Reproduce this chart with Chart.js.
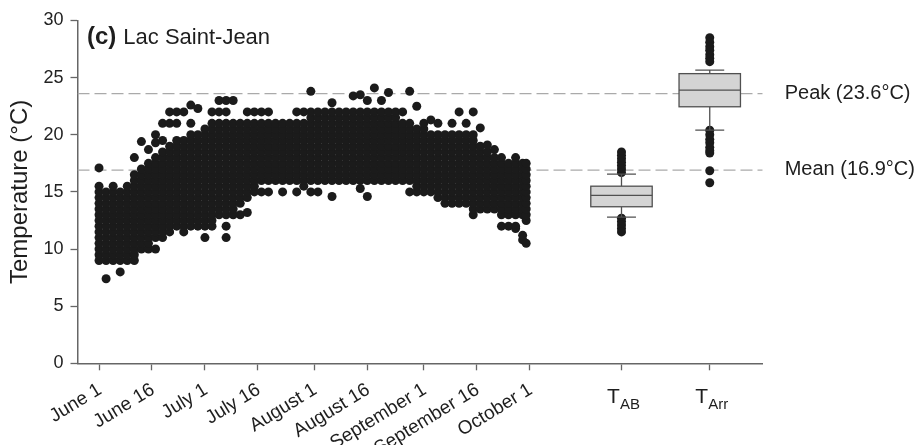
<!DOCTYPE html>
<html>
<head>
<meta charset="utf-8">
<script src="https://cdn.jsdelivr.net/npm/chart.js@4.4.1/dist/chart.umd.min.js"></script>
<style>
  html, body { margin: 0; padding: 0; background: #fff; }
</style>
</head>
<body>
<canvas id="chart" width="923" height="445"></canvas>
<script>
// x axis is counted in days after June 1
const dateTicks = [0, 15, 30, 45, 61, 76, 92, 107, 122];
const dateLabels = ['June 1', 'June 16', 'July 1', 'July 16', 'August 1', 'August 16', 'September 1', 'September 16', 'October 1'];
const boxTicks = [148, 173];
const boxNames = ['AB', 'Arr'];

const peakTemp = 23.6;
const meanTemp = 16.9;

// [day after June 1, temperatures read in that two-day slot (°C)]
const juneReadings = [
  [0, [9, 9.5, 10, 10.5, 11, 11.5, 12, 12.5, 13, 13.5, 14, 14.5, 15, 15.5, 17.1]],
  [2, [7.4, 9, 9.5, 10, 10.5, 11, 11.5, 12, 12.5, 13, 13.5, 14, 14.5, 15]],
  [4, [9, 9.5, 10, 10.5, 11, 11.5, 12, 12.5, 13, 13.5, 14, 14.5, 15, 15.5]],
  [6, [8, 9, 9.5, 10, 10.5, 11, 11.5, 12, 12.5, 13, 13.5, 14, 14.5, 15]],
  [8, [9, 9.5, 10, 10.5, 11, 11.5, 12, 12.5, 13, 13.5, 14, 14.5, 15, 15.5]],
  [10, [9, 9.5, 10, 10.5, 11, 11.5, 12, 12.5, 13, 13.5, 14, 14.5, 15, 15.5, 16, 16.5, 18]],
  [12, [10, 10.5, 11, 11.5, 12, 12.5, 13, 13.5, 14, 14.5, 15, 15.5, 16, 16.5, 17, 19.4]],
  [14, [10, 10.5, 11, 11.5, 12, 12.5, 13, 13.5, 14, 14.5, 15, 15.5, 16, 16.5, 17, 17.5, 18.7]],
  [16, [10, 11, 11.5, 12, 12.5, 13, 13.5, 14, 14.5, 15, 15.5, 16, 16.5, 17, 17.5, 18, 19.3, 20]],
  [18, [11, 11.5, 12, 12.5, 13, 13.5, 14, 14.5, 15, 15.5, 16, 16.5, 17, 17.5, 18, 18.5, 19.5, 21]],
  [20, [11.5, 12, 12.5, 13, 13.5, 14, 14.5, 15, 15.5, 16, 16.5, 17, 17.5, 18, 18.5, 19, 21, 22]],
  [22, [12, 12.5, 13, 13.5, 14, 14.5, 15, 15.5, 16, 16.5, 17, 17.5, 18, 18.5, 19, 19.5, 21, 22]],
  [24, [11.5, 12, 12.5, 13, 13.5, 14, 14.5, 15, 15.5, 16, 16.5, 17, 17.5, 18, 18.5, 19, 19.5, 22]],
  [26, [12, 12.5, 13, 13.5, 14, 14.5, 15, 15.5, 16, 16.5, 17, 17.5, 18, 18.5, 19, 19.5, 20, 21, 22.6]],
  [28, [12, 12.5, 13, 13.5, 14, 14.5, 15, 15.5, 16, 16.5, 17, 17.5, 18, 18.5, 19, 19.5, 20, 22.3]]
];

const julyReadings = [
  [30, [11, 12, 12.5, 13, 13.5, 14, 14.5, 15, 15.5, 16, 16.5, 17, 17.5, 18, 18.5, 19, 19.5, 20, 20.5]],
  [32, [12, 12.5, 13, 13.5, 14, 14.5, 15, 15.5, 16, 16.5, 17, 17.5, 18, 18.5, 19, 19.5, 20, 20.5, 21, 22]],
  [34, [13, 13.5, 14, 14.5, 15, 15.5, 16, 16.5, 17, 17.5, 18, 18.5, 19, 19.5, 20, 20.5, 21, 22, 23]],
  [36, [11, 12, 13, 13.5, 14, 14.5, 15, 15.5, 16, 16.5, 17, 17.5, 18, 18.5, 19, 19.5, 20, 20.5, 21, 22, 23]],
  [38, [13, 13.5, 14, 14.5, 15, 15.5, 16, 16.5, 17, 17.5, 18, 18.5, 19, 19.5, 20, 20.5, 21, 23]],
  [40, [13, 14, 14.5, 15, 15.5, 16, 16.5, 17, 17.5, 18, 18.5, 19, 19.5, 20, 20.5, 21]],
  [42, [13.2, 14.5, 15, 15.5, 16, 16.5, 17, 17.5, 18, 18.5, 19, 19.5, 20, 20.5, 21, 22]],
  [44, [15, 15.5, 16, 16.5, 17, 17.5, 18, 18.5, 19, 19.5, 20, 20.5, 21, 22]],
  [46, [15, 16, 16.5, 17, 17.5, 18, 18.5, 19, 19.5, 20, 20.5, 21, 22]],
  [48, [15, 16, 16.5, 17, 17.5, 18, 18.5, 19, 19.5, 20, 20.5, 21, 22]],
  [50, [16, 16.5, 17, 17.5, 18, 18.5, 19, 19.5, 20, 20.5, 21]],
  [52, [15, 16, 16.5, 17, 17.5, 18, 18.5, 19, 19.5, 20, 20.5, 21]],
  [54, [16, 16.5, 17, 17.5, 18, 18.5, 19, 19.5, 20, 20.5, 21]],
  [56, [15, 16, 16.5, 17, 17.5, 18, 18.5, 19, 19.5, 20, 20.5, 21, 22]],
  [58, [15.5, 16, 16.5, 17, 17.5, 18, 18.5, 19, 19.5, 20, 20.5, 21, 22]],
  [60, [15, 16, 16.5, 17, 17.5, 18, 18.5, 19, 19.5, 20, 20.5, 21, 21.5, 22, 23.8]]
];

const augustReadings = [
  [62, [15, 16, 16.5, 17, 17.5, 18, 18.5, 19, 19.5, 20, 20.5, 21, 21.5, 22]],
  [64, [16, 16.5, 17, 17.5, 18, 18.5, 19, 19.5, 20, 20.5, 21, 21.5, 22]],
  [66, [14.6, 16, 16.5, 17, 17.5, 18, 18.5, 19, 19.5, 20, 20.5, 21, 21.5, 22, 22.8]],
  [68, [16, 16.5, 17, 17.5, 18, 18.5, 19, 19.5, 20, 20.5, 21, 21.5, 22]],
  [70, [16, 16.5, 17, 17.5, 18, 18.5, 19, 19.5, 20, 20.5, 21, 21.5, 22]],
  [72, [16, 16.5, 17, 17.5, 18, 18.5, 19, 19.5, 20, 20.5, 21, 21.5, 22, 23.4]],
  [74, [15.3, 16, 16.5, 17, 17.5, 18, 18.5, 19, 19.5, 20, 20.5, 21, 21.5, 22, 23.5]],
  [76, [14.6, 16, 16.5, 17, 17.5, 18, 18.5, 19, 19.5, 20, 20.5, 21, 21.5, 22, 23]],
  [78, [16, 16.5, 17, 17.5, 18, 18.5, 19, 19.5, 20, 20.5, 21, 21.5, 22, 24.1]],
  [80, [16, 16.5, 17, 17.5, 18, 18.5, 19, 19.5, 20, 20.5, 21, 21.5, 22, 23]],
  [82, [16, 16.5, 17, 17.5, 18, 18.5, 19, 19.5, 20, 20.5, 21, 21.5, 22, 23.7]],
  [84, [16, 16.5, 17, 17.5, 18, 18.5, 19, 19.5, 20, 20.5, 21, 21.5, 22]],
  [86, [16, 16.5, 17, 17.5, 18, 18.5, 19, 19.5, 20, 20.5, 21, 22]],
  [88, [15, 16, 16.5, 17, 17.5, 18, 18.5, 19, 19.5, 20, 20.5, 21, 23.8]],
  [90, [15, 15.5, 16, 16.5, 17, 17.5, 18, 18.5, 19, 19.5, 20, 20.5, 22.5]]
];

const septemberReadings = [
  [92, [15, 15.5, 16, 16.5, 17, 17.5, 18, 18.5, 19, 19.5, 20, 20.5, 21]],
  [94, [15, 15.5, 16, 16.5, 17, 17.5, 18, 18.5, 19, 19.5, 20, 21.3]],
  [96, [14.5, 15, 15.5, 16, 16.5, 17, 17.5, 18, 18.5, 19, 19.5, 20, 21]],
  [98, [14, 14.5, 15, 15.5, 16, 16.5, 17, 17.5, 18, 18.5, 19, 19.5, 20]],
  [100, [14, 14.5, 15, 15.5, 16, 16.5, 17, 17.5, 18, 18.5, 19, 19.5, 20, 21]],
  [102, [14, 14.5, 15, 15.5, 16, 16.5, 17, 17.5, 18, 18.5, 19, 19.5, 20, 22]],
  [104, [14, 14.5, 15, 15.5, 16, 16.5, 17, 17.5, 18, 18.5, 19, 19.5, 20, 21]],
  [106, [13, 13.5, 14, 14.5, 15, 15.5, 16, 16.5, 17, 17.5, 18, 18.5, 19, 19.5, 20, 22]],
  [108, [13.5, 14, 14.5, 15, 15.5, 16, 16.5, 17, 17.5, 18, 18.5, 19, 20.6]],
  [110, [13.5, 14, 14.5, 15, 15.5, 16, 16.5, 17, 17.5, 18, 18.5, 19.1]],
  [112, [13.5, 14, 14.5, 15, 15.5, 16, 16.5, 17, 17.5, 18, 18.7]],
  [114, [12, 13, 13.5, 14, 14.5, 15, 15.5, 16, 16.5, 17, 17.5, 18]],
  [116, [12, 13, 13.5, 14, 14.5, 15, 15.5, 16, 16.5, 17, 17.5]],
  [118, [11.8, 12, 13, 13.5, 14, 14.5, 15, 15.5, 16, 16.5, 17, 17.5, 18]],
  [120, [10.8, 11.2, 13, 13.5, 14, 14.5, 15, 15.5, 16, 16.5, 17, 17.5]],
  [121, [10.5, 12.5, 13, 13.5, 14, 14.5, 15, 15.5, 16, 16.5, 17, 17.5]]
];

// box plots: T_AB then T_Arr
const boxWhiskerLow = [12.8, 20.4];
const boxQ1 = [13.7, 22.45];
const boxMedian = [14.7, 23.9];
const boxQ3 = [15.5, 25.35];
const boxWhiskerHigh = [16.55, 25.65];
const outliersAB = [18.5, 18.2, 17.9, 17.6, 17.3, 17.0, 16.7, 12.7, 12.4, 12.1, 11.8, 11.5];
const outliersArr = [28.5, 28.1, 27.7, 27.4, 27.0, 26.7, 26.4, 20.4, 20.0, 19.6, 19.3, 18.9, 18.6, 18.4, 16.85, 15.8];

const X_MIN = -6.1, X_MAX = 188;
const FONT = '"Liberation Sans", Arial, Helvetica, sans-serif';

const readingPoints = [];
[juneReadings, julyReadings, augustReadings, septemberReadings].forEach(month => {
  month.forEach(([day, temps]) => {
    temps.forEach(t => readingPoints.push({ x: day, y: t }));
  });
});

const outlierPoints = outliersAB.map(t => ({ x: boxTicks[0], y: t }))
  .concat(outliersArr.map(t => ({ x: boxTicks[1], y: t })));

const boxPlugin = {
  id: 'boxes',
  afterDatasetsDraw(chart) {
    const { ctx, scales: { x, y } } = chart;
    ctx.save();
    ctx.strokeStyle = '#505050';
    ctx.lineWidth = 1.3;
    boxTicks.forEach((v, i) => {
      const cx = x.getPixelForValue(v);
      const half = x.getPixelForValue(v + 8.7) - cx;
      const cap = x.getPixelForValue(v + 4.1) - cx;
      const yLow = y.getPixelForValue(boxWhiskerLow[i]);
      const yQ1 = y.getPixelForValue(boxQ1[i]);
      const yMed = y.getPixelForValue(boxMedian[i]);
      const yQ3 = y.getPixelForValue(boxQ3[i]);
      const yHigh = y.getPixelForValue(boxWhiskerHigh[i]);

      ctx.beginPath();
      ctx.moveTo(cx, yLow); ctx.lineTo(cx, yQ1);
      ctx.moveTo(cx, yQ3); ctx.lineTo(cx, yHigh);
      ctx.moveTo(cx - cap, yLow); ctx.lineTo(cx + cap, yLow);
      ctx.moveTo(cx - cap, yHigh); ctx.lineTo(cx + cap, yHigh);
      ctx.stroke();

      ctx.fillStyle = '#d4d4d4';
      ctx.fillRect(cx - half, yQ3, half * 2, yQ1 - yQ3);
      ctx.strokeRect(cx - half, yQ3, half * 2, yQ1 - yQ3);
      ctx.beginPath();
      ctx.moveTo(cx - half, yMed); ctx.lineTo(cx + half, yMed);
      ctx.stroke();
    });
    ctx.restore();
  }
};

const labelPlugin = {
  id: 'labels',
  afterDraw(chart) {
    const { ctx, scales: { x, y }, chartArea } = chart;
    ctx.save();
    ctx.fillStyle = '#1e1e1e';

    // slanted date labels
    ctx.font = '19px ' + FONT;
    ctx.textAlign = 'right';
    ctx.textBaseline = 'middle';
    dateTicks.forEach((v, i) => {
      ctx.save();
      ctx.translate(x.getPixelForValue(v) + 1, chartArea.bottom + 25);
      ctx.rotate(-31.5 * Math.PI / 180);
      ctx.fillText(dateLabels[i], 0, 0);
      ctx.restore();
    });

    // T with subscript under each box
    ctx.textAlign = 'left';
    ctx.textBaseline = 'alphabetic';
    boxTicks.forEach((v, i) => {
      ctx.font = '21px ' + FONT;
      const wT = ctx.measureText('T').width;
      ctx.font = '15px ' + FONT;
      const wS = ctx.measureText(boxNames[i]).width;
      const left = x.getPixelForValue(v) + 2 - (wT + wS) / 2;
      ctx.font = '21px ' + FONT;
      ctx.fillText('T', left, chartArea.bottom + 40);
      ctx.font = '15px ' + FONT;
      ctx.fillText(boxNames[i], left + wT, chartArea.bottom + 46);
    });

    // reference line labels
    ctx.font = '20px ' + FONT;
    ctx.fillText('Peak (' + peakTemp.toFixed(1) + '°C)', chartArea.right + 22, y.getPixelForValue(peakTemp) + 5);
    ctx.fillText('Mean (' + meanTemp.toFixed(1) + '°C)', chartArea.right + 22, y.getPixelForValue(meanTemp) + 5);

    // panel title
    ctx.font = 'bold 24px ' + FONT;
    ctx.fillText('(c)', 87, chartArea.top + 23);
    const wC = ctx.measureText('(c)').width;
    ctx.font = '22px ' + FONT;
    ctx.fillText('Lac Saint-Jean', 87 + wC + 7, chartArea.top + 23);

    // y axis title
    ctx.save();
    ctx.translate(20, (chartArea.top + chartArea.bottom) / 2);
    ctx.rotate(-Math.PI / 2);
    ctx.textAlign = 'center';
    ctx.textBaseline = 'middle';
    ctx.font = '24px ' + FONT;
    ctx.fillText('Temperature (°C)', 0, 0);
    ctx.restore();

    ctx.restore();
  }
};

new Chart(document.getElementById('chart'), {
  type: 'scatter',
  data: {
    datasets: [
      {
        label: 'Readings',
        data: readingPoints,
        pointRadius: 4.5,
        pointBackgroundColor: '#1b1b1b',
        pointBorderWidth: 0,
        order: 1
      },
      {
        label: 'Box outliers',
        data: outlierPoints,
        pointRadius: 4.5,
        pointBackgroundColor: '#1b1b1b',
        pointBorderWidth: 0,
        order: 1
      },
      {
        type: 'line',
        label: 'Peak',
        data: [{ x: X_MIN, y: peakTemp }, { x: X_MAX, y: peakTemp }],
        borderColor: '#aaaaaa',
        borderWidth: 1.3,
        borderDash: [12, 5],
        pointRadius: 0,
        order: 3
      },
      {
        type: 'line',
        label: 'Mean',
        data: [{ x: X_MIN, y: meanTemp }, { x: X_MAX, y: meanTemp }],
        borderColor: '#aaaaaa',
        borderWidth: 1.3,
        borderDash: [12, 5],
        pointRadius: 0,
        order: 3
      }
    ]
  },
  options: {
    responsive: false,
    animation: false,
    devicePixelRatio: 1,
    events: [],
    layout: { padding: { top: 20.5, right: 160.3, left: 0, bottom: 0 } },
    plugins: { legend: { display: false }, tooltip: { enabled: false } },
    scales: {
      x: {
        type: 'linear',
        min: X_MIN,
        max: X_MAX,
        afterBuildTicks: scale => {
          scale.ticks = dateTicks.concat(boxTicks).map(v => ({ value: v }));
        },
        afterFit: scale => { scale.height = 81.7; },
        ticks: { display: false },
        grid: { drawOnChartArea: false, tickLength: 7, tickColor: '#666', tickWidth: 1.3 },
        border: { color: '#666', width: 1.5 }
      },
      y: {
        min: 0,
        max: 30,
        afterFit: scale => { scale.width = 77.5; },
        ticks: { stepSize: 5, color: '#222', padding: 7, font: { family: FONT, size: 18 } },
        grid: { drawOnChartArea: false, tickLength: 7, tickColor: '#666', tickWidth: 1.3 },
        border: { color: '#666', width: 1.5 }
      }
    }
  },
  plugins: [boxPlugin, labelPlugin]
});
</script>
</body>
</html>
